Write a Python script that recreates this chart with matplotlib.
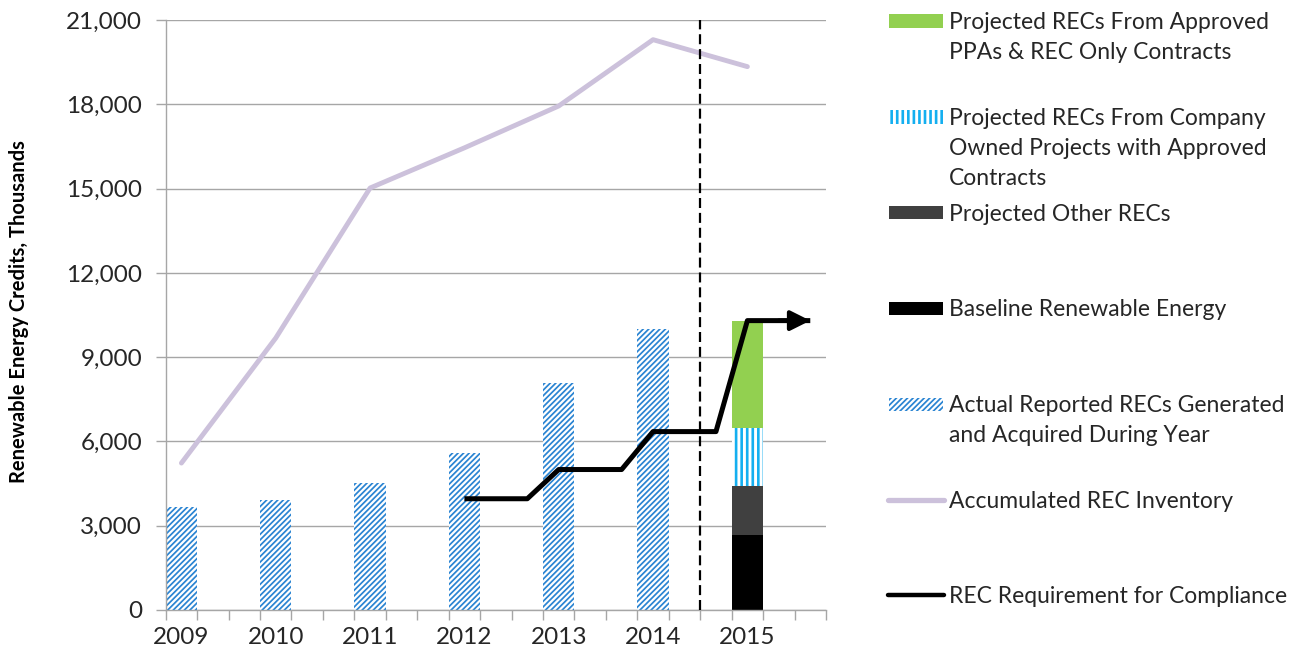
import numpy as np
import matplotlib.pyplot as plt
from matplotlib.patches import Rectangle
from matplotlib.lines import Line2D
from matplotlib.ticker import FuncFormatter

plt.rcParams['font.family'] = ['Lato', 'DejaVu Sans']

# 数据
years = ['2009', '2010', '2011', '2012', '2013', '2014', '2015']
actual = [3670, 3900, 4520, 5580, 8090, 10000]          # 2009-2014
baseline = [2670]                                         # 2015
other = [1740]
company = [2060]
ppa = [3820]
inventory = [5230, 9680, 15020, 16450, 17940, 20300, 19340]
requirement = [np.nan, np.nan, np.nan, 3960, 5000, 6350, 10300]

# 每年 3 个类别槽位
slots = 3
year_pos = np.arange(len(years)) * slots + 0.5
slot_pos = np.arange(len(years) * slots) + 0.5
req_slots = np.repeat(requirement, slots)

c_diag = '#2A84D2'
c_vert = '#14AFF0'
c_green = '#92D050'
c_other = '#404040'
c_purple = '#CCC1DB'
c_grid = '#A6A6A6'
c_text = '#262626'
diag_hatch, diag_lw = '//////', 1.25
vert_hatch, vert_lw = '|||', 1.9

fig = plt.figure(figsize=(13.05, 6.63), dpi=100)
ax = fig.add_axes([165.7 / 1305, 53 / 663, 660.3 / 1305, 590 / 663])

# 柱状图
with plt.rc_context({'hatch.linewidth': diag_lw}):
    ax.bar(year_pos[:6], actual, width=1, color='white', edgecolor=c_diag,
           hatch=diag_hatch, linewidth=0, zorder=2)
i15 = 6
ax.bar(year_pos[i15], baseline, width=1, color='black', linewidth=0, zorder=2)
ax.bar(year_pos[i15], other, width=1, bottom=baseline, color=c_other,
       linewidth=0, zorder=2)
b2 = np.add(baseline, other)
with plt.rc_context({'hatch.linewidth': vert_lw}):
    ax.bar(year_pos[i15], company, width=1, bottom=b2, color='white',
           edgecolor=c_vert, hatch=vert_hatch, linewidth=0, zorder=2)
b3 = b2 + np.array(company)
ax.bar(year_pos[i15], ppa, width=1, bottom=b3, color=c_green,
       linewidth=0, zorder=2)

# 折线
ax.plot(year_pos, inventory, color=c_purple, lw=3.5, solid_capstyle='round',
        zorder=3)
ax.axvline(17, color='black', lw=1.6, dashes=(4.5, 2.2), zorder=4)
ax.plot(slot_pos, req_slots, color='black', lw=3.6, solid_capstyle='butt',
        zorder=5)
ax.annotate('', xy=(slot_pos[-1], req_slots[-1]),
            xytext=(slot_pos[-2], req_slots[-2]),
            arrowprops=dict(arrowstyle='-|>,head_length=0.6,head_width=0.3',
                            color='black', lw=3.0, shrinkA=0, shrinkB=0,
                            mutation_scale=20), zorder=6)

# 坐标轴
ax.set_xlim(0, len(years) * slots)
ax.set_ylim(0, 21000)
ax.set_yticks(np.arange(0, 21001, 3000))
ax.yaxis.set_major_formatter(FuncFormatter(lambda v, p: f'{v:,.0f}'))
ax.grid(axis='y', color=c_grid, lw=1.0, zorder=0)
ax.set_axisbelow(True)
for s in ['top', 'right']:
    ax.spines[s].set_visible(False)
for s in ['left', 'bottom']:
    ax.spines[s].set_color(c_grid)
    ax.spines[s].set_linewidth(1.0)

ax.set_xticks(np.arange(0, len(years) * slots + 1))
ax.set_xticklabels([])
ax.set_xticks(year_pos, minor=True)
ax.set_xticklabels(years, minor=True)
ax.tick_params(axis='x', which='major', length=7, color=c_grid, width=1)
ax.tick_params(axis='x', which='minor', length=0, pad=12, labelsize=17.5,
               labelcolor=c_text)
ax.tick_params(axis='y', length=7, color=c_grid, width=1, pad=10,
               labelsize=17.5, labelcolor=c_text)

fig.text(19 / 1305, 1 - 312 / 663, 'Renewable Energy Credits, Thousands',
         rotation=90, ha='center', va='center', fontsize=14.5,
         fontweight='bold', color='black')

# 图例（手动排版）
H, W = 663, 1305
entries = [
    ('patch', dict(facecolor=c_green), 'Projected RECs From Approved\nPPAs & REC Only Contracts'),
    ('patch', dict(facecolor='white', edgecolor=c_vert, hatch=vert_hatch), 'Projected RECs From Company\nOwned Projects with Approved\nContracts'),
    ('patch', dict(facecolor=c_other), 'Projected Other RECs'),
    ('patch', dict(facecolor='black'), 'Baseline Renewable Energy'),
    ('patch', dict(facecolor='white', edgecolor=c_diag, hatch=diag_hatch), 'Actual Reported RECs Generated\nand Acquired During Year'),
    ('line', dict(color=c_purple, lw=3.8, solid_capstyle='round'), 'Accumulated REC Inventory'),
    ('line', dict(color='black', lw=3.2, solid_capstyle='round'), 'REC Requirement for Compliance'),
]
row_y = [21, 117, 213, 308, 404, 500, 595]
for (kind, style, label), yc in zip(entries, row_y):
    if kind == 'patch':
        hl = vert_lw if style.get('hatch') == vert_hatch else diag_lw
        with plt.rc_context({'hatch.linewidth': hl}):
            r = Rectangle((889 / W, 1 - (yc + 6.5) / H), 54 / W, 13 / H,
                          transform=fig.transFigure, linewidth=0, **style)
        fig.add_artist(r)
    else:
        fig.add_artist(Line2D([888 / W, 944 / W], [1 - yc / H] * 2,
                              transform=fig.transFigure, **style))
    fig.text(949 / W, 1 - (yc - 9) / H, label, ha='left', va='top',
             fontsize=16.5, color=c_text, linespacing=1.54)

plt.savefig('out.png', dpi=100)
